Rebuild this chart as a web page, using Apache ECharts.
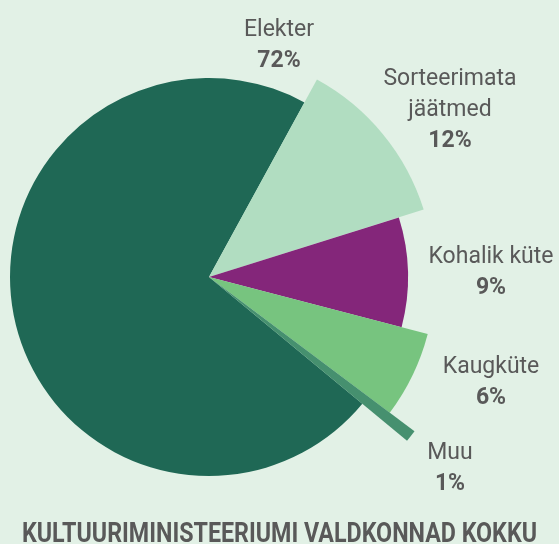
<!DOCTYPE html>
<html>
<head>
<meta charset="utf-8">
<script src="https://cdn.jsdelivr.net/npm/echarts@6/dist/echarts.min.js"></script>
<style>
html, body { margin: 0; padding: 0; background: #e2f1e6; }
#chart { width: 559px; height: 544px; }
</style>
</head>
<body>
<div id="chart"></div>
<script>
// data
const categories = ['Elekter', 'Sorteerimata\njäätmed', 'Kohalik küte', 'Kaugküte', 'Muu'];
const shares = [72.0, 12.2, 8.9, 6.2, 0.75];
const chartTitle = 'KULTUURIMINISTEERIUMI VALDKONNAD KOKKU';

// looks
const colors = ['#1f6855', '#b1ddc1', '#84267a', '#77c47f', '#46906f'];
const radii = [199, 225, 199, 226, 257];
const labelSpots = [[279, 15], [450, 64], [491, 242], [491, 352], [450, 438]];
const textColor = '#595959';

// each slice sticks out a different amount, so one pie series per slice
const series = categories.map((cat, k) => ({
    type: 'pie',
    center: [209, 277],
    radius: [0, radii[k]],
    startAngle: 320.4,
    clockwise: true,
    silent: true,
    avoidLabelOverlap: false,
    minAngle: 0,
    z: 2 + k,
    data: categories.map((c, i) => ({
        name: c,
        value: shares[i],
        itemStyle: { color: i === k ? colors[i] : 'rgba(0,0,0,0)', borderWidth: 0 },
        label: { show: i === k }
    })),
    label: {
        position: 'outside',
        formatter: p => '{n|' + p.name.split('\n').join('}\n{n|') + '}\n{v|' + Math.round(p.percent) + '%}',
        rich: {
            n: { fontFamily: 'Roboto', fontSize: 23, lineHeight: 31, color: textColor, align: 'center' },
            v: { fontFamily: 'Roboto', fontSize: 23, fontWeight: 'bold', lineHeight: 31, color: textColor, align: 'center' }
        }
    },
    labelLine: { show: false },
    labelLayout: () => ({ x: labelSpots[k][0], y: labelSpots[k][1], align: 'center', verticalAlign: 'top' })
}));

// title font is condensed in the original; squeeze Roboto to the same width
const titleFont = 'bold 27px Roboto';
const ctx = document.createElement('canvas').getContext('2d');
ctx.font = titleFont;
const titleScale = 515 / ctx.measureText(chartTitle).width;

let mychart = echarts.init(document.getElementById('chart'));
mychart.setOption({
    backgroundColor: '#e2f1e6',
    animation: false,
    series: series,
    graphic: [{
        type: 'text',
        x: 279.5,
        y: 535,
        scaleX: titleScale,
        style: {
            text: chartTitle,
            font: titleFont,
            fill: textColor,
            textAlign: 'center',
            textVerticalAlign: 'middle'
        }
    }]
});
</script>
</body>
</html>
